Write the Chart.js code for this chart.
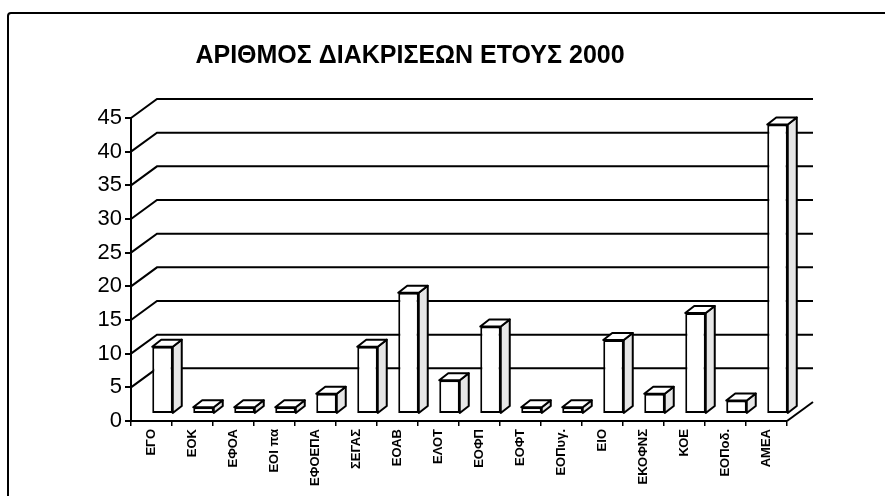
<!DOCTYPE html>
<html>
<head>
<meta charset="utf-8">
<script src="https://cdn.jsdelivr.net/npm/chart.js@4/dist/chart.umd.min.js"></script>
<style>
  html, body { margin: 0; padding: 0; background: #fff; }
  #wrap { position: relative; width: 885px; height: 496px; overflow: hidden; }
  #frame { position: absolute; left: 7px; top: 12px; width: 900px; height: 520px; border: 2px solid #000; border-radius: 4px; box-sizing: border-box; }
  canvas { position: absolute; left: 0; top: 0; }
</style>
</head>
<body>
<div id="wrap">
  <div id="frame"></div>
  <canvas id="c" width="885" height="496"></canvas>
</div>
<script>
const titleText = 'ΑΡΙΘΜΟΣ ΔΙΑΚΡΙΣΕΩΝ ΕΤΟΥΣ 2000';
const categories = ['ΕΓΟ', 'ΕΟΚ', 'ΕΦΟΑ', 'ΕΟΙ πα', 'ΕΦΟΕΠΑ', 'ΣΕΓΑΣ', 'ΕΟΑΒ', 'ΕΛΟΤ', 'ΕΟΦΠ', 'ΕΟΦΤ', 'ΕΟΠυγ.', 'ΕΙΟ', 'ΕΚΟΦΝΣ', 'ΚΟΕ', 'ΕΟΠοδ.', 'ΑΜΕΑ'];
const values = [10, 1, 1, 1, 3, 10, 18, 5, 13, 1, 1, 11, 3, 15, 2, 43];
const yTicks = [0, 5, 10, 15, 20, 25, 30, 35, 40, 45];

const WALL = { dx: 26, dy: 19 };   // back wall depth
const BAR_SHIFT = { dx: 11, dy: 7 }; // bars sit mid-depth
const BAR_DEPTH = { dx: 9, dy: 7 };

const threeD = {
  id: 'threeD',
  beforeDatasetsDraw(chart) {
    const { ctx, chartArea: a, scales: { y } } = chart;
    ctx.save();
    ctx.strokeStyle = '#000';
    ctx.lineWidth = 2;
    ctx.lineJoin = 'miter';
    yTicks.forEach(v => {
      if (v === 0) return;
      const py = y.getPixelForValue(v);
      ctx.beginPath();
      ctx.moveTo(a.left, py);
      ctx.lineTo(a.left + WALL.dx, py - WALL.dy);
      ctx.lineTo(a.right + WALL.dx, py - WALL.dy);
      ctx.stroke();
    });
    const p0 = y.getPixelForValue(0);
    ctx.beginPath();
    ctx.moveTo(a.right, p0);
    ctx.lineTo(a.right + WALL.dx, p0 - WALL.dy);
    ctx.stroke();
    ctx.restore();
    ctx.save();
    ctx.translate(BAR_SHIFT.dx, -BAR_SHIFT.dy);
  },
  afterDatasetsDraw(chart) {
    const { ctx } = chart;
    const meta = chart.getDatasetMeta(0);
    ctx.lineWidth = 2;
    ctx.strokeStyle = '#000';
    ctx.lineJoin = 'round';
    meta.data.forEach(bar => {
      const { x, y, base, width } = bar.getProps(['x', 'y', 'base', 'width'], true);
      const l = x - width / 2, r = x + width / 2;
      ctx.beginPath();
      ctx.moveTo(r, y);
      ctx.lineTo(r + BAR_DEPTH.dx, y - BAR_DEPTH.dy);
      ctx.lineTo(r + BAR_DEPTH.dx, base - BAR_DEPTH.dy);
      ctx.lineTo(r, base);
      ctx.closePath();
      ctx.fillStyle = '#e6e6e6';
      ctx.fill();
      ctx.stroke();
      ctx.beginPath();
      ctx.moveTo(l, y);
      ctx.lineTo(l + BAR_DEPTH.dx, y - BAR_DEPTH.dy);
      ctx.lineTo(r + BAR_DEPTH.dx, y - BAR_DEPTH.dy);
      ctx.lineTo(r, y);
      ctx.closePath();
      ctx.fillStyle = '#ffffff';
      ctx.fill();
      ctx.stroke();
    });
    ctx.restore();
  }
};

new Chart(document.getElementById('c'), {
  type: 'bar',
  data: {
    labels: categories,
    datasets: [{
      data: values,
      backgroundColor: '#ffffff',
      borderColor: '#000000',
      borderWidth: 2,
      borderSkipped: false,
      barPercentage: 0.5,
      categoryPercentage: 1.0
    }]
  },
  options: {
    responsive: false,
    animation: false,
    devicePixelRatio: 1,
    layout: { padding: { left: 33, right: 98, top: 0, bottom: 0 } },
    plugins: {
      legend: { display: false },
      tooltip: { enabled: false },
      title: {
        display: true,
        text: titleText,
        color: '#000',
        font: { family: 'Liberation Sans, Arial, sans-serif', size: 25, weight: 'bold' },
        padding: { top: 41, bottom: 47 }
      }
    },
    scales: {
      x: {
        grid: { display: true, drawOnChartArea: false, drawTicks: true, tickLength: 5, color: '#000', lineWidth: 1.5, offset: true },
        border: { display: true, color: '#000', width: 2 },
        ticks: {
          color: '#000',
          minRotation: 90, maxRotation: 90,
          autoSkip: false,
          padding: 3,
          font: { family: 'Liberation Sans, Arial, sans-serif', size: 13, weight: 'bold' }
        },
        afterFit(s) { s.height = 75; }
      },
      y: {
        min: 0, max: 45,
        afterBuildTicks(s) { s.ticks = yTicks.map(v => ({ value: v })); },
        grid: { display: true, drawOnChartArea: false, drawTicks: true, tickLength: 6, color: '#000', lineWidth: 2 },
        border: { display: true, color: '#000', width: 2 },
        ticks: {
          color: '#000',
          padding: 3,
          font: { family: 'Liberation Sans, Arial, sans-serif', size: 22 }
        },
        afterFit(s) { s.width = 98; }
      }
    }
  },
  plugins: [threeD]
});
</script>
</body>
</html>
